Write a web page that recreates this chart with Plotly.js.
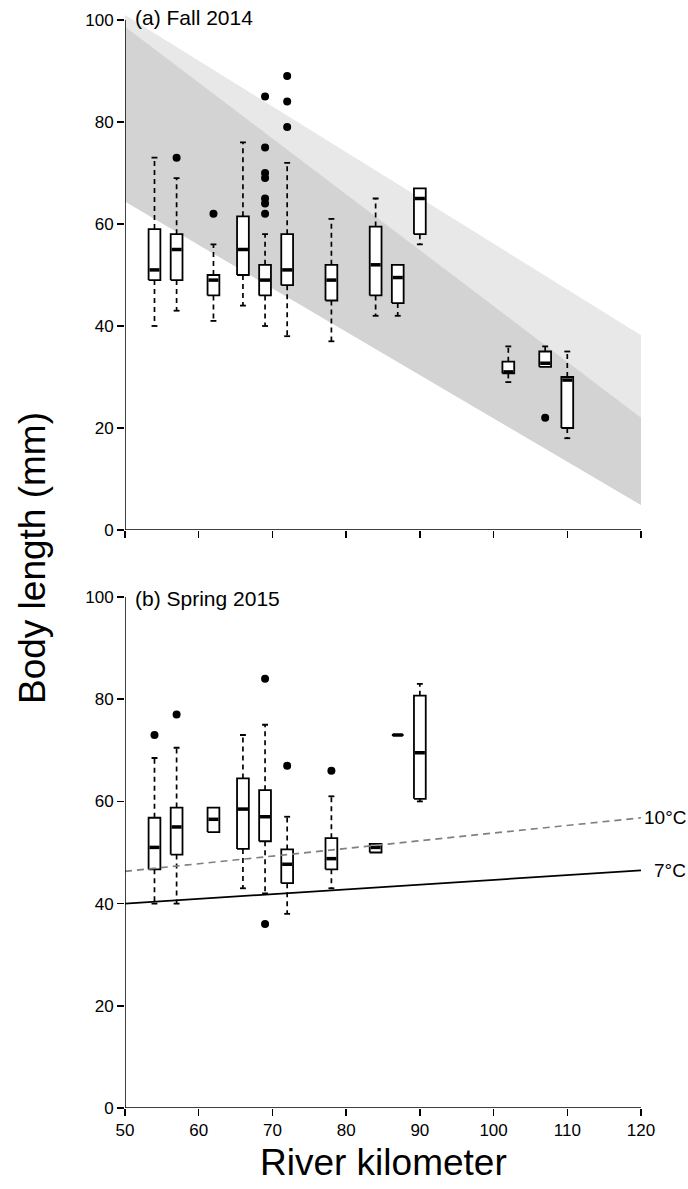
<!DOCTYPE html>
<html>
<head>
<meta charset="utf-8">
<script src="https://cdn.plot.ly/plotly-3.0.1.min.js"></script>
<style>html,body{margin:0;padding:0;background:#fff;}#chart{width:688px;height:1189px;}</style>
</head>
<body>
<div id="chart"></div>
<script>
// ---- Panel (a) Fall 2014 : box statistics by river kilometer ----
const fallKm  = [54, 57, 62, 66, 69, 72, 78, 84, 87, 90, 102, 107, 110];
const fallMin = [40, 43, 41, 44, 40, 38, 37, 42, 42, 56, 29, 32, 18];
const fallQ1  = [49, 49, 46, 50, 46, 48, 45, 46, 44.5, 58, 30.7, 32, 20];
const fallMed = [51, 55, 49, 55, 49, 51, 49, 52, 49.5, 65, 31, 32.7, 29.4];
const fallQ3  = [59, 58, 50, 61.5, 52, 58, 52, 59.5, 52, 67, 33, 35, 30];
const fallMax = [73, 69, 56, 76, 58, 72, 61, 65, 52, 67, 36, 36, 35];
const fallOutKm  = [57, 62, 69, 69, 69, 69, 69, 69, 69, 72, 72, 72, 107];
const fallOutVal = [73, 62, 85, 75, 70, 69, 65, 64, 62, 89, 84, 79, 22];

// shaded growth bands (panel a)
const bandKm     = [50, 120];
const lightUpper = [101, 38.2];
const darkUpper  = [98.7, 22];
const bandLower  = [64.4, 4.9];

// ---- Panel (b) Spring 2015 ----
const springKm  = [54, 57, 62, 66, 69, 72, 78, 84, 87, 90];
const springMin = [40, 40, 54, 43, 42, 38, 43, 50, 73, 60];
const springQ1  = [46.7, 49.6, 54, 50.7, 52.2, 44, 46.7, 50, 73, 60.5];
const springMed = [51, 55, 56.5, 58.5, 57, 47.7, 48.8, 51, 73, 69.5];
const springQ3  = [56.8, 58.8, 58.8, 64.5, 62.2, 50.6, 52.8, 51.7, 73, 80.7];
const springMax = [68.5, 70.5, 58.8, 73, 75, 57, 61, 51.7, 73, 83];
const springOutKm  = [54, 57, 69, 69, 72, 78];
const springOutVal = [73, 77, 84, 36, 67, 66];

// temperature threshold lines (panel b)
const tempKm   = [50, 120];
const temp10C  = [46.3, 56.8];
const temp7C   = [40.0, 46.5];
const tempLabels = ['10°C', '7°C'];

const xTicks = [50, 60, 70, 80, 90, 100, 110, 120];
const yTicks = [0, 20, 40, 60, 80, 100];
const panelTitles = ['(a) Fall 2014', '(b) Spring 2015'];

const FONT = 'Liberation Sans, Arial, Helvetica, sans-serif';
const BOXW = 0.8;   // half box width (km)
const CAPW = 0.4;   // half cap width (km)

function panelTraces(km, mn, q1, med, q3, mx, outKm, outVal, xa, ya) {
  const out = [];
  const wx = [], wy = [], cx = [], cy = [], mxs = [], mys = [];
  for (let i = 0; i < km.length; i++) {
    if (mx[i] > q3[i]) {
      wx.push(km[i], km[i], null); wy.push(q3[i], mx[i], null);
      cx.push(km[i] - CAPW, km[i] + CAPW, null); cy.push(mx[i], mx[i], null);
    }
    if (mn[i] < q1[i]) {
      wx.push(km[i], km[i], null); wy.push(q1[i], mn[i], null);
      cx.push(km[i] - CAPW, km[i] + CAPW, null); cy.push(mn[i], mn[i], null);
    }
    mxs.push(km[i] - BOXW + 0.12, km[i] + BOXW - 0.12, null); mys.push(med[i], med[i], null);
  }
  out.push({type: 'scatter', mode: 'lines', x: wx, y: wy, xaxis: xa, yaxis: ya,
    line: {color: '#000', width: 1.7, dash: '5px,4px'}, hoverinfo: 'skip', showlegend: false});
  out.push({type: 'scatter', mode: 'lines', x: cx, y: cy, xaxis: xa, yaxis: ya,
    line: {color: '#000', width: 1.8}, hoverinfo: 'skip', showlegend: false});
  for (let i = 0; i < km.length; i++) {
    out.push({type: 'scatter', mode: 'lines', xaxis: xa, yaxis: ya,
      x: [km[i] - BOXW, km[i] + BOXW, km[i] + BOXW, km[i] - BOXW, km[i] - BOXW],
      y: [q1[i], q1[i], q3[i], q3[i], q1[i]],
      fill: 'toself', fillcolor: '#ffffff', line: {color: '#000', width: 1.8},
      hoverinfo: 'skip', showlegend: false});
  }
  out.push({type: 'scatter', mode: 'lines', x: mxs, y: mys, xaxis: xa, yaxis: ya,
    line: {color: '#000', width: 3.5}, hoverinfo: 'skip', showlegend: false});
  out.push({type: 'scatter', mode: 'markers', x: outKm, y: outVal, xaxis: xa, yaxis: ya,
    marker: {color: '#000', size: 8}, hoverinfo: 'skip', showlegend: false, cliponaxis: false});
  return out;
}

const traces = [];
traces.push({type: 'scatter', mode: 'lines', xaxis: 'x', yaxis: 'y',
  x: bandKm.concat(bandKm.slice().reverse()),
  y: lightUpper.concat(bandLower.slice().reverse()),
  fill: 'toself', fillcolor: '#e8e8e8', line: {width: 0, color: 'rgba(0,0,0,0)'},
  hoverinfo: 'skip', showlegend: false});
traces.push({type: 'scatter', mode: 'lines', xaxis: 'x', yaxis: 'y',
  x: bandKm.concat(bandKm.slice().reverse()),
  y: darkUpper.concat(bandLower.slice().reverse()),
  fill: 'toself', fillcolor: '#d3d3d3', line: {width: 0, color: 'rgba(0,0,0,0)'},
  hoverinfo: 'skip', showlegend: false});

traces.push(...panelTraces(fallKm, fallMin, fallQ1, fallMed, fallQ3, fallMax, fallOutKm, fallOutVal, 'x', 'y'));
traces.push(...panelTraces(springKm, springMin, springQ1, springMed, springQ3, springMax, springOutKm, springOutVal, 'x2', 'y2'));

traces.push({type: 'scatter', mode: 'lines', x: tempKm, y: temp10C, xaxis: 'x2', yaxis: 'y2',
  line: {color: '#808080', width: 1.7, dash: '7px,5px'}, hoverinfo: 'skip', showlegend: false});
traces.push({type: 'scatter', mode: 'lines', x: tempKm, y: temp7C, xaxis: 'x2', yaxis: 'y2',
  line: {color: '#000', width: 1.7}, hoverinfo: 'skip', showlegend: false});

const axisCommon = {
  showgrid: false, zeroline: false, showline: false,
  ticks: 'outside', ticklen: 7, tickwidth: 1.5, tickcolor: '#000',
  tickfont: {family: FONT, size: 17, color: '#000'}
};

const H = 1189;
const layout = {
  width: 688, height: H,
  margin: {l: 125, r: 47, t: 0, b: 0},
  paper_bgcolor: '#fff', plot_bgcolor: 'rgba(0,0,0,0)',
  showlegend: false,
  font: {family: FONT, color: '#000'},
  xaxis: Object.assign({}, axisCommon, {range: [50, 120], tickvals: xTicks, showticklabels: false, anchor: 'y'}),
  yaxis: Object.assign({}, axisCommon, {range: [0, 102], tickvals: yTicks, anchor: 'x',
    domain: [1 - 530 / H, 1 - 9.8 / H]}),
  xaxis2: Object.assign({}, axisCommon, {range: [50, 120], tickvals: xTicks, anchor: 'y2'}),
  yaxis2: Object.assign({}, axisCommon, {range: [0, 102], tickvals: yTicks, anchor: 'x2',
    domain: [1 - 1108 / H, 1 - 586.8 / H]}),
  shapes: [
    {type: 'line', xref: 'x', yref: 'y', x0: 50, x1: 120, y0: 0, y1: 0, line: {color: '#000', width: 1.5}},
    {type: 'line', xref: 'x', yref: 'y', x0: 50, x1: 50, y0: 0, y1: 100, line: {color: '#000', width: 1.5}},
    {type: 'line', xref: 'x2', yref: 'y2', x0: 50, x1: 120, y0: 0, y1: 0, line: {color: '#000', width: 1.5}},
    {type: 'line', xref: 'x2', yref: 'y2', x0: 50, x1: 50, y0: 0, y1: 100, line: {color: '#000', width: 1.5}}
  ],
  annotations: [
    {text: panelTitles[0], xref: 'x domain', yref: 'y domain', x: 0, y: 1, xanchor: 'left', yanchor: 'top',
     xshift: 8, yshift: 6, showarrow: false, font: {family: FONT, size: 21, color: '#000'}},
    {text: panelTitles[1], xref: 'x2 domain', yref: 'y2 domain', x: 0, y: 1, xanchor: 'left', yanchor: 'top',
     xshift: 8, yshift: 2, showarrow: false, font: {family: FONT, size: 21, color: '#000'}},
    {text: tempLabels[0], xref: 'paper', yref: 'y2', x: 1, y: temp10C[1], xanchor: 'right', yanchor: 'middle',
     xshift: 47, showarrow: false, font: {family: FONT, size: 19, color: '#000'}},
    {text: tempLabels[1], xref: 'paper', yref: 'y2', x: 1, y: temp7C[1], xanchor: 'right', yanchor: 'middle',
     xshift: 47, showarrow: false, font: {family: FONT, size: 19, color: '#000'}},
    {text: 'Body length (mm)', xref: 'paper', yref: 'paper', x: 0, y: 1 - 558 / H, xanchor: 'center', yanchor: 'middle',
     xshift: -93, textangle: -90, showarrow: false, font: {family: FONT, size: 37, color: '#000'}},
    {text: 'River kilometer', xref: 'paper', yref: 'paper', x: 0.5, y: 1 - 1162 / H, xanchor: 'center', yanchor: 'middle',
     showarrow: false, font: {family: FONT, size: 37, color: '#000'}}
  ]
};

Plotly.newPlot('chart', traces, layout, {displayModeBar: false, staticPlot: true});
</script>
</body>
</html>
